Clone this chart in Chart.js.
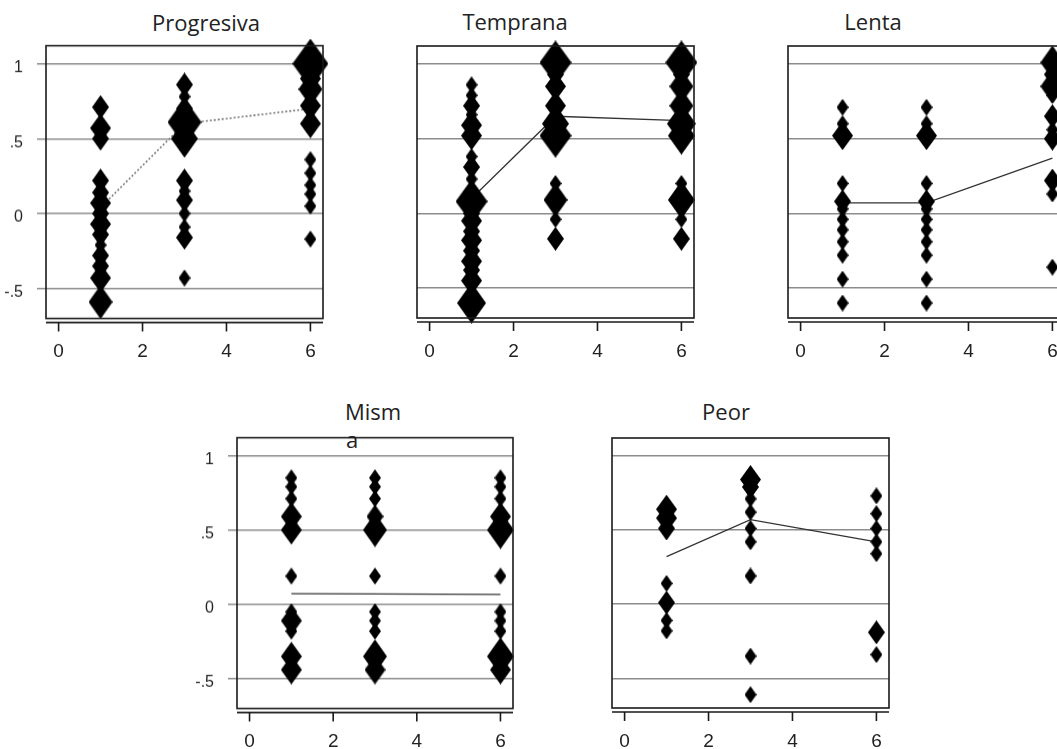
<!DOCTYPE html>
<html>
<head>
<meta charset="utf-8">
<script src="https://cdn.jsdelivr.net/npm/chart.js@4.4.1/dist/chart.umd.min.js"></script>
<style>
  html, body { margin: 0; padding: 0; background: #fff; }
  #page { position: relative; width: 1057px; height: 749px; overflow: hidden; }
  #page canvas { position: absolute; }
  .ttl { position: absolute; font-family: "Open Sans", sans-serif; font-size: 22px; line-height: 22px;
         color: #222; transform: translateX(-50%); white-space: nowrap; }
</style>
</head>
<body>
<div id="page"></div>
<script>
// time points (x) and axis ticks
const times = [1, 3, 6];
const xTicks = [0, 2, 4, 6];
const yTicks = [-0.5, 0, 0.5, 1];

// each panel: values at t=1, t=3, t=6, marker weights (frequency) and the mean line
const progresivaVals = [
  [0.71, 0.57, 0.50, 0.22, 0.14, 0.07, 0, -0.07, -0.14, -0.21, -0.28, -0.35, -0.43, -0.59],
  [0.86, 0.78, 0.70, 0.61, 0.50, 0.22, 0.15, 0.09, 0, -0.09, -0.16, -0.43],
  [1.0, 0.90, 0.83, 0.72, 0.60, 0.36, 0.27, 0.19, 0.13, 0.05, -0.17]
];
const progresivaWts = [
  [2, 3, 2, 2, 2, 3, 2, 3, 2, 1, 2, 2, 3, 4],
  [2, 1, 2, 8, 5, 2, 1, 2, 1, 1, 2, 1],
  [9, 3, 4, 3, 3, 1, 1, 1, 1, 1, 1]
];
const progresivaMeans = [0.04, 0.60, 0.70];

const tempranaVals = [
  [0.86, 0.79, 0.72, 0.66, 0.59, 0.52, 0.38, 0.31, 0.23, 0.14, 0.08, 0, -0.05, -0.12, -0.18, -0.25, -0.32, -0.38, -0.45, -0.60],
  [1.01, 0.93, 0.85, 0.72, 0.60, 0.52, 0.20, 0.09, -0.04, -0.17],
  [1.01, 0.93, 0.85, 0.72, 0.60, 0.52, 0.20, 0.09, -0.04, -0.17]
];
const tempranaWts = [
  [1, 1, 2, 1, 3, 3, 1, 2, 1, 2, 7, 2, 3, 2, 3, 2, 3, 2, 3, 6],
  [7, 2, 3, 3, 5, 7, 1, 4, 1, 2],
  [7, 2, 4, 4, 6, 5, 1, 5, 1, 2]
];
const tempranaMeans = [0.10, 0.65, 0.62];

const lentaVals = [
  [0.71, 0.60, 0.52, 0.20, 0.08, 0.03, -0.04, -0.11, -0.19, -0.28, -0.44, -0.60],
  [0.71, 0.60, 0.52, 0.20, 0.08, 0.03, -0.04, -0.11, -0.19, -0.28, -0.44, -0.60],
  [1.01, 0.93, 0.85, 0.79, 0.65, 0.56, 0.50, 0.22, 0.13, -0.36]
];
const lentaWts = [
  [1, 1, 3, 1, 2, 1, 1, 1, 1, 1, 1, 1],
  [1, 1, 3, 1, 2, 1, 1, 1, 1, 1, 1, 1],
  [4, 2, 4, 1, 2, 1, 2, 2, 1, 1]
];
const lentaMeans = [0.07, 0.07, 0.37];

const mismVals = [
  [0.85, 0.79, 0.71, 0.59, 0.50, 0.19, -0.05, -0.11, -0.18, -0.35, -0.44],
  [0.85, 0.79, 0.71, 0.59, 0.50, 0.19, -0.05, -0.11, -0.18, -0.35, -0.44],
  [0.85, 0.79, 0.71, 0.59, 0.50, 0.19, -0.05, -0.11, -0.18, -0.35, -0.44]
];
const mismWts = [
  [1, 1, 1, 3, 3, 1, 1, 3, 1, 3, 3],
  [1, 1, 1, 2, 4, 1, 1, 1, 1, 4, 3],
  [1, 1, 1, 3, 5, 1, 1, 1, 1, 5, 3]
];
const mismMeans = [0.072, 0.07, 0.066];

const peorVals = [
  [0.64, 0.58, 0.51, 0.14, 0.01, -0.11, -0.18],
  [0.84, 0.79, 0.71, 0.62, 0.51, 0.42, 0.19, -0.35, -0.61],
  [0.73, 0.61, 0.51, 0.42, 0.34, -0.19, -0.34]
];
const peorWts = [
  [3, 3, 2, 1, 2, 1, 1],
  [3, 2, 1, 1, 1, 1, 1, 1, 1],
  [1, 1, 1, 1, 1, 2, 1]
];
const peorMeans = [0.32, 0.57, 0.42];

// layout of the five panels (plot box in page pixels)
const panels = [
  { title: 'Progresiva', vals: progresivaVals, wts: progresivaWts, means: progresivaMeans,
    box: [46, 46, 277, 272], labels: true, dotted: true, tx: 206, ty: 11 },
  { title: 'Temprana', vals: tempranaVals, wts: tempranaWts, means: tempranaMeans,
    box: [417, 46, 277, 272], labels: false, tx: 515, ty: 10 },
  { title: 'Lenta', vals: lentaVals, wts: lentaWts, means: lentaMeans,
    box: [788, 46, 277, 272], labels: false, tx: 873, ty: 10 },
  { title: 'Mism', sub: 'a', vals: mismVals, wts: mismWts, means: mismMeans,
    box: [237, 438, 276, 270], labels: true, tx: 373, ty: 400, sx: 352, sy: 428 },
  { title: 'Peor', vals: peorVals, wts: peorWts, means: peorMeans,
    box: [612, 438, 277, 270], labels: false, tx: 726, ty: 400 }
];

const AXW = 60, AXH = 50, PT = 20, PR = 30;

// stata-like diamond, a bit taller than wide; size grows with the weight
const diamonds = {};
function diamond(w) {
  if (!diamonds[w]) {
    const r = 6 * Math.sqrt(w);
    const c = document.createElement('canvas');
    c.width = Math.round(2 * r);
    c.height = Math.round(2 * r * 1.4);
    const g = c.getContext('2d');
    g.fillStyle = '#000';
    g.beginPath();
    g.moveTo(c.width / 2, 0);
    g.lineTo(c.width, c.height / 2);
    g.lineTo(c.width / 2, c.height);
    g.lineTo(0, c.height / 2);
    g.closePath();
    g.fill();
    diamonds[w] = c;
  }
  return diamonds[w];
}

const frame = {
  id: 'frame',
  afterDraw(chart) {
    const { ctx, chartArea: a } = chart;
    const xs = chart.scales.x;
    ctx.save();
    ctx.strokeStyle = '#1a1a1a';
    ctx.lineWidth = 1.6;
    ctx.strokeRect(a.left, a.top, a.right - a.left, a.bottom - a.top);
    const ay = a.bottom + 4;
    ctx.beginPath();
    ctx.moveTo(a.left, ay);
    ctx.lineTo(a.right, ay);
    xs.ticks.forEach(t => {
      const px = xs.getPixelForValue(t.value);
      ctx.moveTo(px, ay);
      ctx.lineTo(px, ay + 9);
    });
    ctx.stroke();
    ctx.restore();
  }
};

const page = document.getElementById('page');

function addText(txt, x, y) {
  const d = document.createElement('div');
  d.className = 'ttl';
  d.textContent = txt;
  d.style.left = x + 'px';
  d.style.top = y + 'px';
  page.appendChild(d);
}

panels.forEach(p => {
  addText(p.title, p.tx, p.ty);
  if (p.sub) addText(p.sub, p.sx, p.sy);
});

panels.forEach(p => {
  const [bl, bt, bw, bh] = p.box;
  const cv = document.createElement('canvas');
  cv.width = AXW + bw + PR;
  cv.height = PT + bh + AXH;
  page.appendChild(cv);

  const pts = [];
  times.forEach((t, i) => {
    p.vals[i].forEach((v, j) => pts.push({ x: t, y: v, w: p.wts[i][j] }));
  });
  const meanPts = times.map((t, i) => ({ x: t, y: p.means[i] }));

  const chart = new Chart(cv, {
    type: 'scatter',
    data: {
      datasets: [
        {
          data: pts,
          pointStyle: c => diamond(c.raw.w),
          pointRadius: c => 6 * Math.sqrt(c.raw.w),
          pointBackgroundColor: '#000',
          pointBorderWidth: 0,
          clip: false
        },
        {
          data: meanPts,
          showLine: true,
          borderColor: p.dotted ? '#777' : '#333',
          borderWidth: p.dotted ? 1.6 : 1.3,
          borderDash: p.dotted ? [2, 2] : [],
          pointRadius: 0,
          clip: false
        }
      ]
    },
    options: {
      responsive: false,
      maintainAspectRatio: false,
      animation: false,
      events: [],
      layout: { padding: { left: 0, top: PT, right: PR, bottom: 0 } },
      plugins: { legend: { display: false }, tooltip: { enabled: false } },
      scales: {
        x: {
          type: 'linear', min: -0.3, max: 6.3,
          afterBuildTicks: s => { s.ticks = xTicks.map(v => ({ value: v })); },
          afterFit: s => { s.height = AXH; },
          grid: { display: false },
          border: { display: false },
          ticks: { padding: 14, color: '#222', font: { family: "'Liberation Sans', Arial, sans-serif", size: 19 } }
        },
        y: {
          type: 'linear', min: -0.7, max: 1.12,
          afterBuildTicks: s => { s.ticks = yTicks.map(v => ({ value: v })); },
          afterFit: s => { s.width = AXW; },
          grid: { color: '#8c8c8c', lineWidth: 1.5, drawTicks: p.labels, tickLength: 9 },
          border: { display: false },
          ticks: {
            display: p.labels, padding: 14, labelOffset: 4, color: '#222',
            font: { family: "'Liberation Sans', Arial, sans-serif", size: 16 },
            callback: v => v === 0 ? '0' : String(v).replace('0.', '.')
          }
        }
      }
    },
    plugins: [frame]
  });

  // make the plot area exactly the box, then line the canvas up with it
  let ca = chart.chartArea;
  const dw = bw - (ca.right - ca.left), dh = bh - (ca.bottom - ca.top);
  if (dw || dh) chart.resize(cv.width + dw, cv.height + dh);
  ca = chart.chartArea;
  cv.style.left = (bl - ca.left) + 'px';
  cv.style.top = (bt - ca.top) + 'px';
});
</script>
</body>
</html>
